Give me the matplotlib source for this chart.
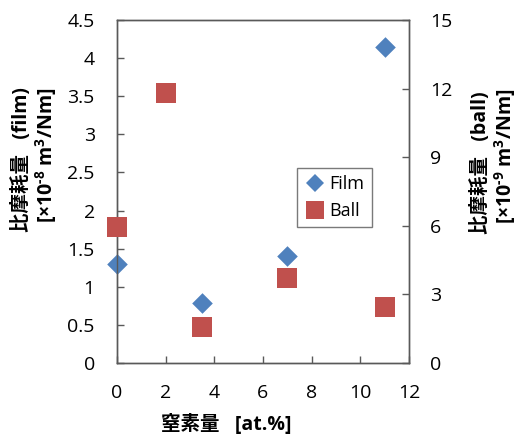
import matplotlib
matplotlib.use("Agg")
import matplotlib.pyplot as plt
from matplotlib.lines import Line2D

plt.rcParams['font.family'] = ['Open Sans', 'Noto Sans CJK JP', 'DejaVu Sans']
plt.rcParams['mathtext.fontset'] = 'custom'
plt.rcParams['mathtext.rm'] = 'Open Sans:bold'
plt.rcParams['mathtext.default'] = 'rm'

film_x = [0, 3.5, 7, 11]
film_y = [1.3, 0.79, 1.41, 4.15]
ball_x = [0, 2, 3.5, 7, 11]
ball_y = [5.95, 11.8, 1.57, 3.72, 2.45]

x_ticks = [0, 2, 4, 6, 8, 10, 12]
left_ticks = [0, 0.5, 1, 1.5, 2, 2.5, 3, 3.5, 4, 4.5]
left_ticklabels = ['0', '0.5', '1', '1.5', '2', '2.5', '3', '3.5', '4', '4.5']
right_ticks = [0, 3, 6, 9, 12, 15]

film_color = '#4F81BD'
ball_color = '#C0504D'

fig = plt.figure(figsize=(5.19, 4.38), dpi=100)
ax = fig.add_axes([117/519, 75/438, 292/519, 343/438])
ax2 = ax.twinx()

ax.scatter(film_x, film_y, marker='D', s=110, color=film_color, zorder=3, linewidths=0, clip_on=False)
ax2.scatter(ball_x, ball_y, marker='s', s=190, color=ball_color, zorder=3, linewidths=0, clip_on=False)

ax.set_xlim(0, 12)
ax.set_ylim(0, 4.5)
ax2.set_ylim(0, 15)
ax.set_xticks(x_ticks)
ax.set_yticks(left_ticks)
ax.set_yticklabels(left_ticklabels)
ax2.set_yticks(right_ticks)

for a in (ax, ax2):
    for s in a.spines.values():
        s.set_color('#595959')
        s.set_linewidth(1.0)
ax.tick_params(axis='both', direction='in', length=5, width=1, color='#595959',
               labelsize=14)
ax.tick_params(axis='y', pad=16)
ax.tick_params(axis='x', pad=15)
ax2.tick_params(axis='y', direction='in', length=5, width=1, color='#595959',
                labelsize=14, pad=15)

bold = dict(fontweight='bold')
fig.text(226/519, 1 - 425/438, '窒素量   [at.%]', ha='center', va='center', fontsize=14, **bold)
fig.text(22/519, 1 - 160/438, '比摩耗量   (film)', ha='center', va='center', rotation=90, fontsize=14, **bold)
fig.text(46/519, 1 - 155/438, r'[×10$^{\text{-8}}$ m$^{3}$/Nm]', ha='center', va='center', rotation=90, fontsize=14, **bold)
fig.text(481/519, 1 - 163/438, '比摩耗量   (ball)', ha='center', va='center', rotation=90, fontsize=14, **bold)
fig.text(505/519, 1 - 156/438, r'[×10$^{\text{-9}}$ m$^{3}$/Nm]', ha='center', va='center', rotation=90, fontsize=14, **bold)

handles = [Line2D([], [], marker='D', color=film_color, linestyle='none', markersize=9, markeredgewidth=0),
           Line2D([], [], marker='s', color=ball_color, linestyle='none', markersize=13, markeredgewidth=0)]
leg = ax2.legend(handles, ['Film', 'Ball'], loc='upper left',
                 bbox_to_anchor=((297-117)/292, (363-168)/343),
                 fontsize=13, frameon=True, fancybox=False, edgecolor='#595959',
                 handletextpad=0.2, borderpad=0.4, labelspacing=0.5, handlelength=1.2,
                 borderaxespad=0)
leg.get_frame().set_linewidth(1.0)

fig.savefig('out.png', dpi=100)
